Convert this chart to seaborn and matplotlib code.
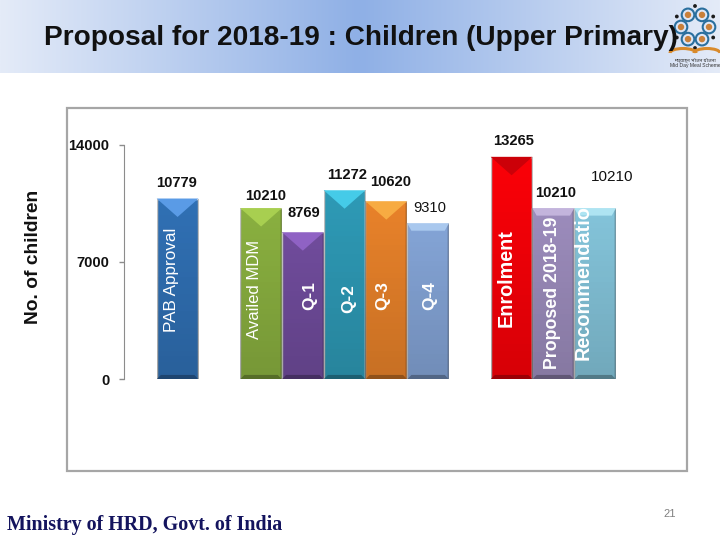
import numpy as np
import pandas as pd
import matplotlib
matplotlib.use("Agg")
import matplotlib.pyplot as plt
from matplotlib.colors import LinearSegmentedColormap, to_rgb
from matplotlib.patches import Polygon, Rectangle, Circle, Arc
import seaborn as sns

# values, blanks are the gaps between the groups
categories = ["PAB Approval", "gap1", "Availed MDM", "Q-1", "Q-2", "Q-3", "Q-4",
              "gap2", "Enrolment", "Proposed 2018-19", "Recommendation"]
values = [10779, 0, 10210, 8769, 11272, 10620, 9310, 0, 13265, 10210, 10210]
value_labels = ["10779", "", "10210", "8769", "11272", "10620", "9310", "", "13265", "10210", "10210"]
bar_colors = ["#3070b4", "#ffffff", "#8ab040", "#704c9c", "#2e9ab6", "#e8822a",
              "#84a4d6", "#ffffff", "#fa0008", "#9c8cbc", "#84c4da"]
bevel_colors = ["#5a9be6", "#ffffff", "#a8cf50", "#8f62c4", "#45cbe8", "#f7ab42",
                "#a9c8ee", "#ffffff", "#cc0008", "#c3b4dc", "#aee4f2"]
y_ticks = [0, 7000, 14000]

sns.set_style("white")
plt.rcParams["font.family"] = ["Liberation Sans", "DejaVu Sans"]

W, H = 720, 540
fig = plt.figure(figsize=(W / 100, H / 100), dpi=100, facecolor="white")


def px_axes(x0, y0, x1, y1):
    # axes from pixel box, y measured from the top of the slide
    return fig.add_axes([x0 / W, 1 - y1 / H, (x1 - x0) / W, (y1 - y0) / H])


# slide layer: header band and chart frame
bg = fig.add_axes([0, 0, 1, 1])
band = np.abs(np.linspace(-1, 1, 256)).reshape(1, -1)
band_cmap = LinearSegmentedColormap.from_list("band", ["#8fb0e6", "#e4ebf8"])
bg.imshow(band, extent=(0, W, 73, 0), cmap=band_cmap, aspect="auto")
bg.set_xlim(0, W)
bg.set_ylim(H, 0)
bg.axis("off")
bg.add_patch(Rectangle((66.5, 107.5), 620.5, 363.5, fc="white", ec="#a6a6a6", lw=1.6))

bg.text(44, 38, "Proposal for 2018-19 : Children (Upper Primary)", fontsize=20.2,
        fontweight="bold", va="center", ha="left", color="#111111", zorder=5)
bg.text(7, 525, "Ministry of HRD, Govt. of India", fontsize=14.4, fontweight="bold",
        family="Liberation Serif", va="center", ha="left", color="#14145e")
bg.text(670, 514, "21", fontsize=8, va="center", ha="center", color="#808080")

# logo, rough ring of figures over an open book
cx, cy = 695, 27
for i in range(6):
    a = np.pi * i / 3
    x, y = cx + 14 * np.cos(a), cy + 14 * np.sin(a)
    bg.add_patch(Circle((x, y), 6.3, fc="none", ec="#2a6f9e", lw=1.5))
    bg.add_patch(Circle((x, y), 3.2, fc="#c9803a", ec="none"))
    b = a + np.pi / 6
    bg.add_patch(Circle((cx + 21 * np.cos(b), cy + 21 * np.sin(b)), 1.9, fc="#1c1c1c", ec="none"))
bg.add_patch(Arc((cx - 12, cy + 26), 26, 9, theta1=180, theta2=360, ec="#d98a2b", lw=2.2))
bg.add_patch(Arc((cx + 12, cy + 26), 26, 9, theta1=180, theta2=360, ec="#d98a2b", lw=2.2))
bg.text(cx, 60, "मध्याह्न भोजन योजना", fontsize=3.6, ha="center", va="center",
        family=["Noto Sans", "DejaVu Sans"], color="#333333")
bg.text(cx, 65.5, "Mid Day Meal Scheme", fontsize=3.6, ha="center", va="center", color="#333333")

# chart layer
ax = px_axes(124, 144.5, 640, 379.3)
ax.patch.set_alpha(0)
df = pd.DataFrame({"category": categories, "children": values})
sns.barplot(data=df, x="category", y="children", hue="category", palette=bar_colors,
            order=categories, legend=False, width=1.0, saturation=1, ax=ax, zorder=2)

slot = 41.75
x_lim = (-0.5 - (156.7 - 124) / slot, -0.5 + (640 - 156.7) / slot)
ax.set_xticks([])
ax.set_xlabel("")
ax.set_ylabel("")
ax.set_yticks(y_ticks)
ax.set_yticklabels([str(t) for t in y_ticks], fontsize=10.5, fontweight="bold", color="#111111")
ax.tick_params(axis="y", length=3.6, width=1, color="#8c8c8c", pad=7, direction="out", left=True)
for s in ["top", "right", "bottom"]:
    ax.spines[s].set_visible(False)
ax.spines["left"].set_color("#8c8c8c")
fig.text(33.5 / W, 1 - 256.5 / H, "No. of children", rotation=90, fontsize=13.8, fontweight="bold",
         ha="center", va="center", color="#111111", zorder=5)

# bevel on each bar: dark rim at the sides, darker toward the base, light top piece
side = LinearSegmentedColormap.from_list("side", [(0, 0, 0, 0.0), (0, 0, 0, 0.28)])
down = LinearSegmentedColormap.from_list("down", [(0, 0, 0, 0.0), (0, 0, 0, 0.14)])
rim = np.clip(np.abs(np.linspace(-1, 1, 64)) * 12 - 11, 0, 1).reshape(1, -1)
flat_top = ("Q-4", "Proposed 2018-19", "Recommendation")
for p, v, name, top in zip(ax.patches, values, categories, bevel_colors):
    if v == 0:
        continue
    x0, w, h = p.get_x(), p.get_width(), p.get_height()
    base = np.array(to_rgb(p.get_facecolor()))
    im = ax.imshow(rim, extent=(x0, x0 + w, 0, h), cmap=side, vmin=0, vmax=1, aspect="auto", zorder=3)
    im.set_clip_path(p)
    im = ax.imshow(np.linspace(0, 1, 32).reshape(-1, 1), extent=(x0, x0 + w, 0, h), cmap=down, vmin=0, vmax=1,
                   aspect="auto", zorder=3)
    im.set_clip_path(p)
    if name in flat_top:
        pts = [(x0, h), (x0 + w, h), (x0 + w * 0.9, h - 450), (x0 + w * 0.1, h - 450)]
    else:
        pts = [(x0, h), (x0 + w, h), (x0 + w / 2, h - 1100)]
    ax.add_patch(Polygon(pts, fc=top, ec="none", zorder=4))
    ax.add_patch(Polygon([(x0, 0), (x0 + w, 0), (x0 + w * 0.9, 260), (x0 + w * 0.1, 260)],
                         fc=base * 0.62, ec="none", zorder=4))
ax.set_xlim(x_lim)
ax.set_ylim(0, 14000)

# value labels above the bars, offsets as placed on the slide
label_dy = [943, 0, 737, 1164, 909, 1162, 886, 0, 961, 898, 1870]
label_dx = [-0.02, 0, 0.11, 0.02, 0.05, 0.1, 0.03, 0, 0.05, 0.06, 0.42]
for i, (v, txt) in enumerate(zip(values, value_labels)):
    if not txt:
        continue
    normal = i in (6, 10)
    ax.text(i + label_dx[i], v + label_dy[i], txt, ha="center", va="center",
            fontsize=11 if i == 10 else 10.6, fontweight="normal" if normal else "bold",
            color="#111111", zorder=6, clip_on=False)

# names written up the bars, the last one runs past the bar top and is cut
inner_y = [2838, 0, 2400, 4130, 3960, 4130, 4130, 0, 3100, 600, 1150]
inner_dx = [-0.14, 0, -0.15, 0.17, 0.09, -0.08, 0.05, 0, -0.14, -0.02, -0.29]
inner_size = [12.3, 0, 12, 12.4, 12.4, 12.4, 12.4, 0, 14.2, 12.8, 14.3]
inner_bold = [False, False, False, True, True, True, True, False, True, True, True]
for i, name in enumerate(categories):
    if name.startswith("gap"):
        continue
    t = ax.text(i + inner_dx[i], inner_y[i], name, rotation=90, ha="center", va="bottom",
                fontsize=inner_size[i], fontweight="bold" if inner_bold[i] else "normal",
                color="white", zorder=7)
    if i == 10:
        t.set_clip_on(True)
        t.set_clip_path(Rectangle((-1, 0), 20, values[i], transform=ax.transData))

fig.savefig("out.png", dpi=100)
